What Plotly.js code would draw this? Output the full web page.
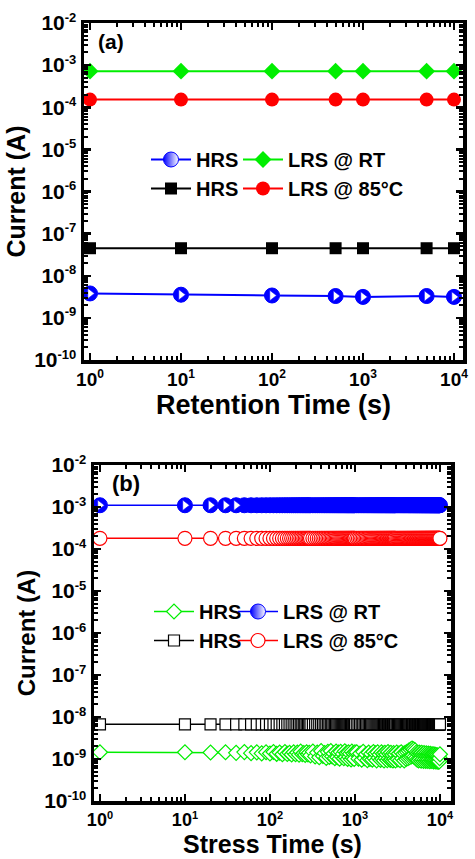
<!DOCTYPE html>
<html>
<head>
<meta charset="utf-8">
<script src="https://cdn.plot.ly/plotly-3.0.1.min.js"></script>
<style>html,body{margin:0;padding:0;background:#fff;}#chart{width:475px;height:859px;}</style>
</head>
<body>
<div id="chart"></div>
<script>
// ---------- Panel (a): retention ----------
const retTime   = [1, 10, 100, 500, 1000, 5000, 10000];
const retHRS_RT = [3.8e-9, 3.55e-9, 3.4e-9, 3.3e-9, 3.15e-9, 3.3e-9, 3.15e-9];
const retLRS_RT = [7.2e-4, 7.2e-4, 7.2e-4, 7.2e-4, 7.2e-4, 7.2e-4, 7.2e-4];
const retHRS_85 = [4.5e-8, 4.5e-8, 4.5e-8, 4.5e-8, 4.5e-8, 4.5e-8, 4.5e-8];
const retLRS_85 = [1.52e-4, 1.52e-4, 1.52e-4, 1.52e-4, 1.52e-4, 1.52e-4, 1.52e-4];

// ---------- Panel (b): stress ----------
const stressTime = [1,10,20,30,40,50,60,70,80,90,100,110,120,130,140,150,160,170,180,190,200,210,220,230,240,250,260,270,280,290,300,
 320,340,360,380,400,420,440,460,480,500,520,540,560,580,600,620,640,660,680,700,720,740,760,780,800,820,840,860,880,900,920,940,960,980,1000,
 1050,1100,1150,1200,1250,1300,1350,1400,1450,1500,1550,1600,1650,1700,1750,1800,1850,1900,1950,2000,2050,2100,2150,2200,2250,2300,2350,2400,2450,2500,2550,2600,2650,2700,2750,2800,2850,2900,2950,3000,
 3100,3200,3300,3400,3500,3600,3700,3800,3900,4000,4100,4200,4300,4400,4500,4600,4700,4800,4900,5000,5100,5200,5300,5400,5500,5600,5700,5800,5900,6000,6100,6200,6300,6400,6500,6600,6700,6800,6900,7000,7100,7200,7300,7400,7500,7600,7700,7800,7900,8000,8100,8200,8300,8400,8500,8600,8700,8800,8900,9000,9100,9200,9300,9400,9500,9600,9700,9800,9900,10000];

const strHRS_RT = [1.45e-9,1.45e-9,1.43e-9,1.45e-9,1.4e-9,1.46e-9,1.38e-9,1.44e-9,1.36e-9,1.45e-9,1.35e-9,1.47e-9,1.33e-9,1.42e-9,1.3e-9,1.46e-9,1.32e-9,1.4e-9,1.28e-9,1.45e-9,1.3e-9,1.42e-9,1.27e-9,1.5e-9,1.3e-9,1.38e-9,1.25e-9,1.45e-9,1.28e-9,1.4e-9,1.22e-9,
 1.5e-9,1.15e-9,1.42e-9,1.1e-9,1.55e-9,1.18e-9,1.38e-9,1.06e-9,1.48e-9,1.12e-9,1.55e-9,1.15e-9,1.35e-9,1.05e-9,1.5e-9,1.1e-9,1.42e-9,1.02e-9,1.48e-9,1.15e-9,1.32e-9,1.04e-9,1.52e-9,1.1e-9,1.4e-9,1.0e-9,1.45e-9,1.12e-9,1.34e-9,0.98e-9,1.5e-9,1.06e-9,1.38e-9,1.0e-9,1.45e-9,
 1.45e-9,1.02e-9,1.35e-9,0.96e-9,1.48e-9,1.05e-9,1.3e-9,0.94e-9,1.42e-9,1.0e-9,1.32e-9,0.97e-9,1.46e-9,1.04e-9,1.36e-9,0.93e-9,1.44e-9,1.06e-9,1.28e-9,0.95e-9,1.45e-9,1.0e-9,1.34e-9,0.92e-9,1.4e-9,1.04e-9,1.3e-9,0.94e-9,1.47e-9,1.02e-9,1.32e-9,0.95e-9,1.4e-9,0.98e-9,1.26e-9,0.92e-9,1.38e-9,1.0e-9,1.3e-9,0.93e-9,
 1.42e-9,0.98e-9,1.36e-9,0.94e-9,1.45e-9,1.02e-9,1.32e-9,0.92e-9,1.4e-9,1.0e-9,1.48e-9,1.05e-9,1.58e-9,1.1e-9,1.68e-9,1.15e-9,1.78e-9,1.2e-9,1.7e-9,1.12e-9,1.6e-9,1.04e-9,1.45e-9,0.96e-9,1.38e-9,0.92e-9,1.42e-9,0.98e-9,1.35e-9,0.91e-9,1.4e-9,0.97e-9,1.32e-9,0.9e-9,1.38e-9,0.95e-9,1.3e-9,0.9e-9,1.36e-9,0.94e-9,1.3e-9,0.9e-9,1.35e-9,0.95e-9,1.28e-9,0.89e-9,1.33e-9,0.93e-9,1.26e-9,0.9e-9,1.3e-9,0.93e-9,1.25e-9,0.88e-9,1.3e-9,0.92e-9,1.22e-9,0.88e-9,1.26e-9,0.9e-9,1.2e-9,0.87e-9,1.22e-9,0.88e-9,1.15e-9,0.86e-9,1.1e-9,0.87e-9,1.05e-9,1.3e-9];

const strLRS_RT = [1.1e-3,1.1e-3,1.1e-3,1.1e-3,1.1e-3,1.1e-3,1.1e-3,1.1e-3,1.1e-3,1.1e-3,1.1e-3,1.1e-3,1.1e-3,1.1e-3,1.1e-3,1.1e-3,1.1e-3,1.1e-3,1.1e-3,1.1e-3,1.1e-3,1.1e-3,1.1e-3,1.1e-3,1.1e-3,1.1e-3,1.1e-3,1.1e-3,1.1e-3,1.1e-3,1.1e-3,
 1.1e-3,1.1e-3,1.1e-3,1.1e-3,1.1e-3,1.1e-3,1.1e-3,1.1e-3,1.1e-3,1.1e-3,1.1e-3,1.1e-3,1.1e-3,1.1e-3,1.1e-3,1.1e-3,1.1e-3,1.1e-3,1.1e-3,1.1e-3,1.1e-3,1.1e-3,1.1e-3,1.1e-3,1.1e-3,1.1e-3,1.1e-3,1.1e-3,1.1e-3,1.1e-3,1.1e-3,1.1e-3,1.1e-3,1.1e-3,1.1e-3,
 1.1e-3,1.1e-3,1.1e-3,1.1e-3,1.1e-3,1.1e-3,1.1e-3,1.1e-3,1.1e-3,1.1e-3,1.1e-3,1.1e-3,1.1e-3,1.1e-3,1.1e-3,1.1e-3,1.1e-3,1.1e-3,1.1e-3,1.1e-3,1.1e-3,1.1e-3,1.1e-3,1.1e-3,1.1e-3,1.1e-3,1.1e-3,1.1e-3,1.1e-3,1.1e-3,1.1e-3,1.1e-3,1.1e-3,1.1e-3,1.1e-3,1.1e-3,1.1e-3,1.1e-3,1.1e-3,1.1e-3,
 1.1e-3,1.1e-3,1.1e-3,1.1e-3,1.1e-3,1.1e-3,1.1e-3,1.1e-3,1.1e-3,1.1e-3,1.1e-3,1.1e-3,1.1e-3,1.1e-3,1.1e-3,1.1e-3,1.1e-3,1.1e-3,1.1e-3,1.1e-3,1.1e-3,1.1e-3,1.1e-3,1.1e-3,1.1e-3,1.1e-3,1.1e-3,1.1e-3,1.1e-3,1.1e-3,1.1e-3,1.1e-3,1.1e-3,1.1e-3,1.1e-3,1.1e-3,1.1e-3,1.1e-3,1.1e-3,1.1e-3,1.1e-3,1.1e-3,1.1e-3,1.1e-3,1.1e-3,1.1e-3,1.1e-3,1.1e-3,1.1e-3,1.1e-3,1.1e-3,1.1e-3,1.1e-3,1.1e-3,1.1e-3,1.1e-3,1.1e-3,1.1e-3,1.1e-3,1.1e-3,1.1e-3,1.1e-3,1.1e-3,1.1e-3,1.1e-3,1.1e-3,1.1e-3,1.1e-3,1.1e-3,1.1e-3];

const strHRS_85 = [6.7e-9,6.7e-9,6.7e-9,6.7e-9,6.7e-9,6.7e-9,6.7e-9,6.7e-9,6.7e-9,6.7e-9,6.7e-9,6.7e-9,6.7e-9,6.7e-9,6.7e-9,6.7e-9,6.7e-9,6.7e-9,6.7e-9,6.7e-9,6.7e-9,6.7e-9,6.7e-9,6.7e-9,6.7e-9,6.7e-9,6.7e-9,6.7e-9,6.7e-9,6.7e-9,6.7e-9,
 6.7e-9,6.7e-9,6.7e-9,6.7e-9,6.7e-9,6.7e-9,6.7e-9,6.7e-9,6.7e-9,6.7e-9,6.7e-9,6.7e-9,6.7e-9,6.7e-9,6.7e-9,6.7e-9,6.7e-9,6.7e-9,6.7e-9,6.7e-9,6.7e-9,6.7e-9,6.7e-9,6.7e-9,6.7e-9,6.7e-9,6.7e-9,6.7e-9,6.7e-9,6.7e-9,6.7e-9,6.7e-9,6.7e-9,6.7e-9,6.7e-9,
 6.7e-9,6.7e-9,6.7e-9,6.7e-9,6.7e-9,6.7e-9,6.7e-9,6.7e-9,6.7e-9,6.7e-9,6.7e-9,6.7e-9,6.7e-9,6.7e-9,6.7e-9,6.7e-9,6.7e-9,6.7e-9,6.7e-9,6.7e-9,6.7e-9,6.7e-9,6.7e-9,6.7e-9,6.7e-9,6.7e-9,6.7e-9,6.7e-9,6.7e-9,6.7e-9,6.7e-9,6.7e-9,6.7e-9,6.7e-9,6.7e-9,6.7e-9,6.7e-9,6.7e-9,6.7e-9,6.7e-9,
 6.7e-9,6.7e-9,6.7e-9,6.7e-9,6.7e-9,6.7e-9,6.7e-9,6.7e-9,6.7e-9,6.7e-9,6.7e-9,6.7e-9,6.7e-9,6.7e-9,6.7e-9,6.7e-9,6.7e-9,6.7e-9,6.7e-9,6.7e-9,6.7e-9,6.7e-9,6.7e-9,6.7e-9,6.7e-9,6.7e-9,6.7e-9,6.7e-9,6.7e-9,6.7e-9,6.7e-9,6.7e-9,6.7e-9,6.7e-9,6.7e-9,6.7e-9,6.7e-9,6.7e-9,6.7e-9,6.7e-9,6.7e-9,6.7e-9,6.7e-9,6.7e-9,6.7e-9,6.7e-9,6.7e-9,6.7e-9,6.7e-9,6.7e-9,6.7e-9,6.7e-9,6.7e-9,6.7e-9,6.7e-9,6.7e-9,6.7e-9,6.7e-9,6.7e-9,6.7e-9,6.7e-9,6.7e-9,6.7e-9,6.7e-9,6.7e-9,6.7e-9,6.7e-9,6.7e-9,6.7e-9,6.7e-9,6.7e-9,6.7e-9];

const strLRS_85 = [1.8e-4,1.8e-4,1.8e-4,1.8e-4,1.8e-4,1.8e-4,1.8e-4,1.8e-4,1.8e-4,1.8e-4,1.8e-4,1.8e-4,1.8e-4,1.8e-4,1.8e-4,1.8e-4,1.8e-4,1.8e-4,1.8e-4,1.8e-4,1.8e-4,1.8e-4,1.8e-4,1.8e-4,1.8e-4,1.8e-4,1.8e-4,1.8e-4,1.8e-4,1.8e-4,1.8e-4,
 1.8e-4,1.8e-4,1.8e-4,1.8e-4,1.8e-4,1.8e-4,1.8e-4,1.8e-4,1.8e-4,1.8e-4,1.8e-4,1.8e-4,1.8e-4,1.8e-4,1.8e-4,1.8e-4,1.8e-4,1.8e-4,1.8e-4,1.8e-4,1.8e-4,1.8e-4,1.8e-4,1.8e-4,1.8e-4,1.8e-4,1.8e-4,1.8e-4,1.8e-4,1.8e-4,1.8e-4,1.8e-4,1.8e-4,1.8e-4,1.8e-4,
 1.8e-4,1.8e-4,1.8e-4,1.8e-4,1.8e-4,1.8e-4,1.8e-4,1.8e-4,1.8e-4,1.8e-4,1.8e-4,1.8e-4,1.8e-4,1.8e-4,1.8e-4,1.8e-4,1.8e-4,1.8e-4,1.8e-4,1.8e-4,1.8e-4,1.8e-4,1.8e-4,1.8e-4,1.8e-4,1.8e-4,1.8e-4,1.8e-4,1.8e-4,1.8e-4,1.8e-4,1.8e-4,1.8e-4,1.8e-4,1.8e-4,1.8e-4,1.8e-4,1.8e-4,1.8e-4,1.8e-4,
 1.8e-4,1.8e-4,1.8e-4,1.8e-4,1.8e-4,1.8e-4,1.8e-4,1.8e-4,1.8e-4,1.8e-4,1.8e-4,1.8e-4,1.8e-4,1.8e-4,1.8e-4,1.8e-4,1.8e-4,1.8e-4,1.8e-4,1.8e-4,1.8e-4,1.8e-4,1.8e-4,1.8e-4,1.8e-4,1.8e-4,1.8e-4,1.8e-4,1.8e-4,1.8e-4,1.8e-4,1.8e-4,1.8e-4,1.8e-4,1.8e-4,1.8e-4,1.8e-4,1.8e-4,1.8e-4,1.8e-4,1.8e-4,1.8e-4,1.8e-4,1.8e-4,1.8e-4,1.8e-4,1.8e-4,1.8e-4,1.8e-4,1.8e-4,1.8e-4,1.8e-4,1.8e-4,1.8e-4,1.8e-4,1.8e-4,1.8e-4,1.8e-4,1.8e-4,1.8e-4,1.8e-4,1.8e-4,1.8e-4,1.8e-4,1.8e-4,1.8e-4,1.8e-4,1.8e-4,1.8e-4,1.8e-4,1.8e-4,1.8e-4];

// ---------- ticks & labels ----------
const xTickVals = [1, 10, 100, 1000, 10000];
const xTickExp  = ['0', '1', '2', '3', '4'];
const xMinorVals = [2,3,4,5,6,7,8,9,20,30,40,50,60,70,80,90,200,300,400,500,600,700,800,900,2000,3000,4000,5000,6000,7000,8000,9000];
const yTickVals = [1e-10, 1e-9, 1e-8, 1e-7, 1e-6, 1e-5, 1e-4, 1e-3, 1e-2];
const yTickExp  = ['-10', '-9', '-8', '-7', '-6', '-5', '-4', '-3', '-2'];
const yMinorVals = [2e-10,3e-10,4e-10,5e-10,6e-10,7e-10,8e-10,9e-10,2e-9,3e-9,4e-9,5e-9,6e-9,7e-9,8e-9,9e-9,
 2e-8,3e-8,4e-8,5e-8,6e-8,7e-8,8e-8,9e-8,2e-7,3e-7,4e-7,5e-7,6e-7,7e-7,8e-7,9e-7,2e-6,3e-6,4e-6,5e-6,6e-6,7e-6,8e-6,9e-6,
 2e-5,3e-5,4e-5,5e-5,6e-5,7e-5,8e-5,9e-5,2e-4,3e-4,4e-4,5e-4,6e-4,7e-4,8e-4,9e-4,2e-3,3e-3,4e-3,5e-3,6e-3,7e-3,8e-3,9e-3];
const seriesNames = ['HRS', 'LRS @ RT', 'HRS', 'LRS @ 85°C'];

const FONT = 'Liberation Sans, Arial, Helvetica, sans-serif';
const BLUE = '#0000ff', GREEN = '#00ee00', RED = '#ff0000', BLACK = '#000000';
const powLabel = (e, s) => '10<sup><span style="font-size:' + s + 'px">' + e + '</span></sup>';
// legend look of the half-filled circle (drawn underneath, fully covered by the solid markers)
const halfMarker = {symbol: 'circle', size: 15, color: BLUE, gradient: {type: 'horizontal', color: '#ffffff'}, line: {color: BLUE, width: 1}};
const solidBlue = {symbol: 'circle', size: 15, color: BLUE};
const triMarker = {symbol: 'triangle-right', size: 9, color: '#ffffff', line: {width: 0.6, color: BLUE}};

const traces = [
  // ---- (a) ----
  {x: retTime, y: retHRS_RT, name: seriesNames[0], mode: 'lines+markers', xaxis: 'x', yaxis: 'y', legend: 'legend',
   line: {color: BLUE, width: 2}, marker: halfMarker},
  {x: retTime, y: retHRS_RT, mode: 'markers', xaxis: 'x', yaxis: 'y', showlegend: false, hoverinfo: 'skip', marker: solidBlue},
  {x: retTime, y: retHRS_RT, mode: 'markers', xaxis: 'x', yaxis: 'y', showlegend: false, hoverinfo: 'skip', marker: triMarker},
  {x: retTime, y: retHRS_85, name: seriesNames[2], mode: 'lines+markers', xaxis: 'x', yaxis: 'y', legend: 'legend',
   line: {color: BLACK, width: 2}, marker: {symbol: 'square', size: 12, color: BLACK}},
  {x: retTime, y: retLRS_RT, name: seriesNames[1], mode: 'lines+markers', xaxis: 'x', yaxis: 'y', legend: 'legend2',
   line: {color: GREEN, width: 2}, marker: {symbol: 'diamond', size: 13, color: GREEN}},
  {x: retTime, y: retLRS_85, name: seriesNames[3], mode: 'lines+markers', xaxis: 'x', yaxis: 'y', legend: 'legend2',
   line: {color: RED, width: 2}, marker: {symbol: 'circle', size: 14, color: RED}},
  // ---- (b) ----
  {x: stressTime, y: strHRS_RT, name: seriesNames[0], mode: 'lines+markers', xaxis: 'x2', yaxis: 'y2', legend: 'legend3',
   line: {color: GREEN, width: 1.5}, marker: {symbol: 'diamond', size: 11.5, color: '#ffffff', line: {color: GREEN, width: 1.2}}},
  {x: stressTime, y: strHRS_85, name: seriesNames[2], mode: 'lines+markers', xaxis: 'x2', yaxis: 'y2', legend: 'legend3',
   line: {color: BLACK, width: 1.5}, marker: {symbol: 'square', size: 11, color: '#ffffff', line: {color: BLACK, width: 1.2}}},
  {x: stressTime, y: strLRS_RT, name: seriesNames[1], mode: 'lines+markers', xaxis: 'x2', yaxis: 'y2', legend: 'legend4',
   line: {color: BLUE, width: 1.5}, marker: halfMarker},
  {x: stressTime, y: strLRS_RT, mode: 'markers', xaxis: 'x2', yaxis: 'y2', showlegend: false, hoverinfo: 'skip', marker: solidBlue},
  {x: stressTime.slice(0, 5), y: strLRS_RT.slice(0, 5), mode: 'markers', xaxis: 'x2', yaxis: 'y2', showlegend: false, hoverinfo: 'skip', marker: triMarker},
  {x: stressTime, y: strLRS_85, name: seriesNames[3], mode: 'lines+markers', xaxis: 'x2', yaxis: 'y2', legend: 'legend4',
   line: {color: RED, width: 1.5}, marker: {symbol: 'circle', size: 14, color: '#ffffff', line: {color: RED, width: 1.2}}}
];

const W = 475, H = 859;
function xaxisCfg(l, r, range, title, anchor, tickSize, titleSize) {
  return {
    type: 'log', domain: [l / W, r / W], range: range, anchor: anchor,
    showline: true, linecolor: '#000', linewidth: 3.5, mirror: 'allticks',
    ticks: 'inside', ticklen: 7, tickwidth: 2.5, tickcolor: '#000',
    tickmode: 'array', tickvals: xTickVals, ticktext: xTickExp.map(e => powLabel(e, Math.round(tickSize * 0.62))),
    minor: {tickmode: 'array', tickvals: xMinorVals, ticks: 'inside', ticklen: 4, tickwidth: 2, tickcolor: '#000', showgrid: false},
    showgrid: false, zeroline: false,
    tickfont: {family: FONT, size: tickSize, color: '#000', weight: 'bold'},
    title: {text: '<b>' + title + '</b>', font: {family: FONT, size: titleSize, color: '#000'}, standoff: 2}
  };
}
function yaxisCfg(t, b, anchor, titleSize) {
  return {
    type: 'log', domain: [1 - b / H, 1 - t / H], range: [-10, -2], anchor: anchor,
    showline: true, linecolor: '#000', linewidth: 3.5, mirror: 'allticks',
    ticks: 'inside', ticklen: 7, tickwidth: 2.5, tickcolor: '#000',
    tickmode: 'array', tickvals: yTickVals, ticktext: yTickExp.map(e => powLabel(e, 13)),
    minor: {tickmode: 'array', tickvals: yMinorVals, ticks: 'inside', ticklen: 4, tickwidth: 2, tickcolor: '#000', showgrid: false},
    showgrid: false, zeroline: false,
    tickfont: {family: FONT, size: 21, color: '#000', weight: 'bold'},
    title: {text: '<b>Current (A)</b>', font: {family: FONT, size: titleSize, color: '#000'}, standoff: 2}
  };
}
function legendCfg(px, py) {
  return {x: px / W, y: 1 - py / H, xanchor: 'left', yanchor: 'middle', orientation: 'v',
    bgcolor: 'rgba(0,0,0,0)', borderwidth: 0, itemwidth: 40, tracegroupgap: 0,
    font: {family: FONT, size: 20, color: '#000', weight: 'bold'}};
}

const layout = {
  width: W, height: H, margin: {l: 0, r: 0, t: 0, b: 0},
  paper_bgcolor: '#fff', plot_bgcolor: '#fff', showlegend: true,
  xaxis: xaxisCfg(84, 463, [-0.066, 4.099], 'Retention Time (s)', 'y', 19, 27),
  yaxis: yaxisCfg(23, 360, 'x', 25),
  xaxis2: xaxisCfg(94, 451, [-0.07, 4.13], 'Stress Time (s)', 'y2', 18, 25),
  yaxis2: yaxisCfg(465, 801, 'x2', 24),
  legend: legendCfg(146, 174),
  legend2: legendCfg(238, 174),
  legend3: legendCfg(149, 626),
  legend4: legendCfg(233, 626),
  annotations: [
    {text: '<b>(a)</b>', xref: 'paper', yref: 'paper', x: 96 / W, y: 1 - 41 / H, xanchor: 'left', yanchor: 'middle', showarrow: false,
     font: {family: FONT, size: 21, color: '#000'}},
    {text: '<b>(b)</b>', xref: 'paper', yref: 'paper', x: 110 / W, y: 1 - 483 / H, xanchor: 'left', yanchor: 'middle', showarrow: false,
     font: {family: FONT, size: 22, color: '#000'}}
  ]
};

Plotly.newPlot('chart', traces, layout, {displayModeBar: false, staticPlot: true});
</script>
</body>
</html>
